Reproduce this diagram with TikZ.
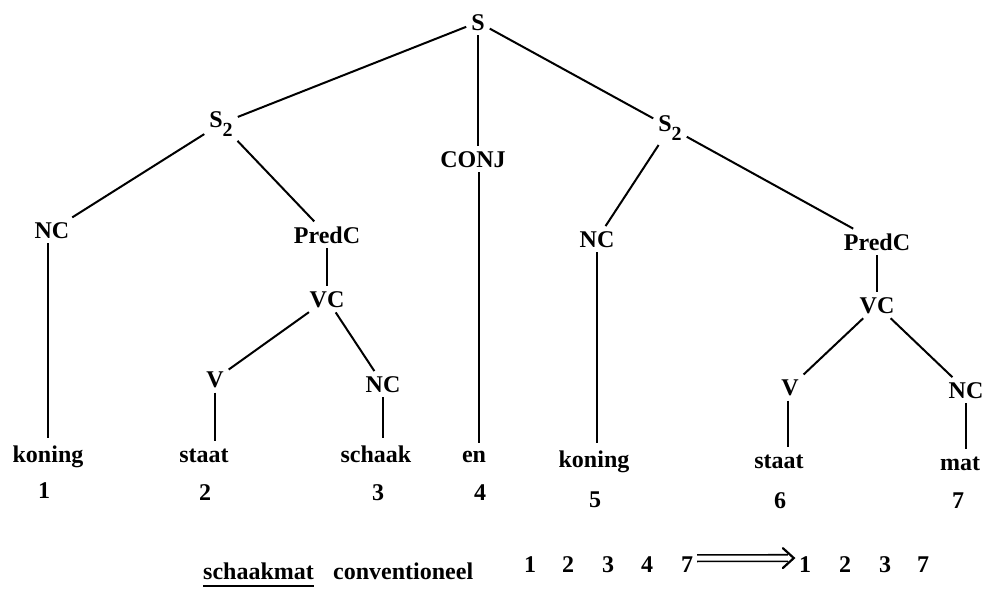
\documentclass[tikz,border=0pt]{standalone}
\usepackage{fontspec}
\setmainfont{Liberation Serif}
\usetikzlibrary{arrows.meta}
\newcommand\lowtwo{\raisebox{-9pt}{\fontsize{20}{20}\selectfont 2}}
\begin{document}
\begin{tikzpicture}[x=1pt,y=-1pt,
  lab/.style={font=\fontsize{24}{28}\selectfont\bfseries, inner sep=4pt, anchor=base},
  word/.style={lab, inner sep=6pt},
  plain/.style={font=\fontsize{24}{28}\selectfont\bfseries, inner sep=0pt, anchor=base},
  edge/.style={line width=2pt, shorten <=1pt, shorten >=1pt},
  shaft/.style={double, double distance=5pt, line width=1.6pt},
  chev/.style={line width=2.2pt, line join=miter, line cap=round}]
\useasboundingbox (0,0) rectangle (982,589);
\fill[white] (0,0) rectangle (982,589);
% upper tree
\node[lab] (S) at (478,30) {S};
\node[lab] (S2L) at (221,127) {S\lowtwo};
\node[lab] (CONJ) at (473,167) {CONJ};
\node[lab] (S2R) at (670,131) {S\lowtwo};
\node[lab] (NCL) at (52,238) {NC};
\node[lab] (PCL) at (327,243) {PredC};
\node[lab] (VCL) at (327,307) {VC};
\node[lab] (VL) at (215,387) {V};
\node[lab] (NCLL) at (383,392) {NC};
\node[lab] (NCR) at (597,247) {NC};
\node[lab] (PCR) at (877,250) {PredC};
\node[lab] (VCR) at (877,313) {VC};
\node[lab] (VR) at (790,395) {V};
\node[lab] (NCRR) at (966,398) {NC};
% words
\node[word] (w1) at (48,462) {koning};
\node[word] (w2) at (204,462) {staat};
\node[word] (w3) at (376,462) {schaak};
\node[word] (w4) at (474,462) {en};
\node[word] (w5) at (594,467) {koning};
\node[word] (w6) at (779,468) {staat};
\node[word] (w7) at (960,470) {mat};
% numbers
\node[lab] (n1) at (44,498) {1};
\node[lab] (n2) at (205,500) {2};
\node[lab] (n3) at (378,500) {3};
\node[lab] (n4) at (480,500) {4};
\node[lab] (n5) at (595,507) {5};
\node[lab] (n6) at (780,508) {6};
\node[lab] (n7) at (958,508) {7};
% edges
\draw[edge] (S) -- (S2L);
\draw[edge] (S) -- (S2R);
\draw[edge] (S.south) -- (S.south |- CONJ.north);
\draw[edge] (S2L) -- (NCL);
\draw[edge] (S2L) -- (PCL);
\draw[edge] (S2R) -- (NCR);
\draw[edge] (S2R) -- (PCR);
\draw[edge] (PCL) -- (VCL);
\draw[edge] (VCL) -- (VL);
\draw[edge] (VCL) -- (NCLL);
\draw[edge] (PCR) -- (VCR);
\draw[edge] (VCR) -- (VR);
\draw[edge] (VCR) -- (NCRR);
\draw[edge] ([xshift=-4pt]NCL.south) -- ([xshift=-4pt]NCL.south |- w1.north);
\draw[edge] (VL.south) -- (VL.south |- w2.north);
\draw[edge] (NCLL.south) -- (NCLL.south |- w3.north);
\draw[edge] ([xshift=6pt]CONJ.south) -- ([xshift=6pt]CONJ.south |- w4.north);
\draw[edge] (NCR.south) -- (NCR.south |- w5.north);
\draw[edge] ([xshift=-2pt]VR.south) -- ([xshift=-2pt]VR.south |- w6.north);
\draw[edge] (NCRR.south) -- (NCRR.south |- w7.north);
% bottom line
\node[plain, anchor=base west] (sm) at (203,579) {schaakmat};
\node[plain, anchor=base west] (cv) at (333,579) {conventioneel};
\draw[line width=1.6pt] ([yshift=-7pt]sm.base west) -- ([yshift=-7pt]sm.base east);
\node[lab] (q1) at (530,572) {1};
\node[lab] (q2) at (568,572) {2};
\node[lab] (q3) at (608,572) {3};
\node[lab] (q4) at (647,572) {4};
\node[lab] (q5) at (687,572) {7};
\node[lab] (r1) at (805,572) {1};
\node[lab] (r2) at (845,572) {2};
\node[lab] (r3) at (885,572) {3};
\node[lab] (r4) at (923,572) {7};
\coordinate (tip) at ([xshift=-1pt,yshift=6pt]r1.west);
\draw[shaft] ([yshift=6pt]q5.east) -- ([xshift=-6pt]tip);
\draw[chev] ([xshift=-11pt,yshift=10pt]tip) -- (tip) -- ([xshift=-11pt,yshift=-10pt]tip);
\end{tikzpicture}
\end{document}
